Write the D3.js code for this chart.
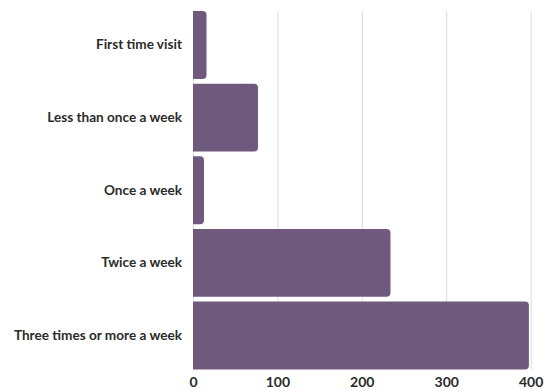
<!DOCTYPE html>
<html><head><meta charset="utf-8">
<script src="https://cdn.jsdelivr.net/npm/d3@7"></script>
<style>body{margin:0;background:#fff}svg{display:block}</style>
</head><body>
<script>
const categories = ["First time visit","Less than once a week","Once a week","Twice a week","Three times or more a week"];
const values = [16, 77, 13, 234, 398];
const tickValues = [0,100,200,300,400];

const W=550,H=391;
const m={top:11,right:19,bottom:22,left:193};
const svg=d3.select("body").append("svg").attr("width",W).attr("height",H);
const x=d3.scaleLinear().domain([0,400]).range([m.left,m.left+337.6]);
const y=d3.scaleBand().domain(categories).range([m.top,369.5]).paddingInner(0.065).paddingOuter(0);
const font="Lato, 'Open Sans', sans-serif";

// grid
svg.append("g").selectAll("line").data(tickValues).join("line")
 .attr("x1",d=>x(d)+0.5).attr("x2",d=>x(d)+0.5).attr("y1",m.top).attr("y2",369.5)
 .attr("stroke","#dcdcdc").attr("stroke-width",1);

// bars with right rounded corners
const r=4;
svg.append("g").selectAll("path").data(categories).join("path")
 .attr("d",(c,i)=>{const x0=x(0),x1=x(values[i]),y0=y(c),y1=y(c)+y.bandwidth();const rr=Math.min(r,(x1-x0)/2);
   return `M${x0},${y0}H${x1-rr}Q${x1},${y0} ${x1},${y0+rr}V${y1-rr}Q${x1},${y1} ${x1-rr},${y1}H${x0}Z`;})
 .attr("fill","#6f5a7e");

// y labels
const ya=svg.append("g").attr("transform",`translate(${m.left},0)`)
 .call(d3.axisLeft(y).tickSize(0).tickPadding(11));
ya.select(".domain").remove();
ya.selectAll("text").attr("font-family",font).attr("font-weight","bold").attr("font-size",13.6).attr("fill","#2b2b2b");

// x axis
const xa=svg.append("g").attr("transform",`translate(0,373)`)
 .call(d3.axisBottom(x).tickValues(tickValues).tickSize(0).tickPadding(4));
xa.select(".domain").remove();
xa.selectAll("text").attr("font-family",font).attr("font-weight","bold").attr("font-size",14).attr("fill","#2b2b2b");
</script>
</body></html>
